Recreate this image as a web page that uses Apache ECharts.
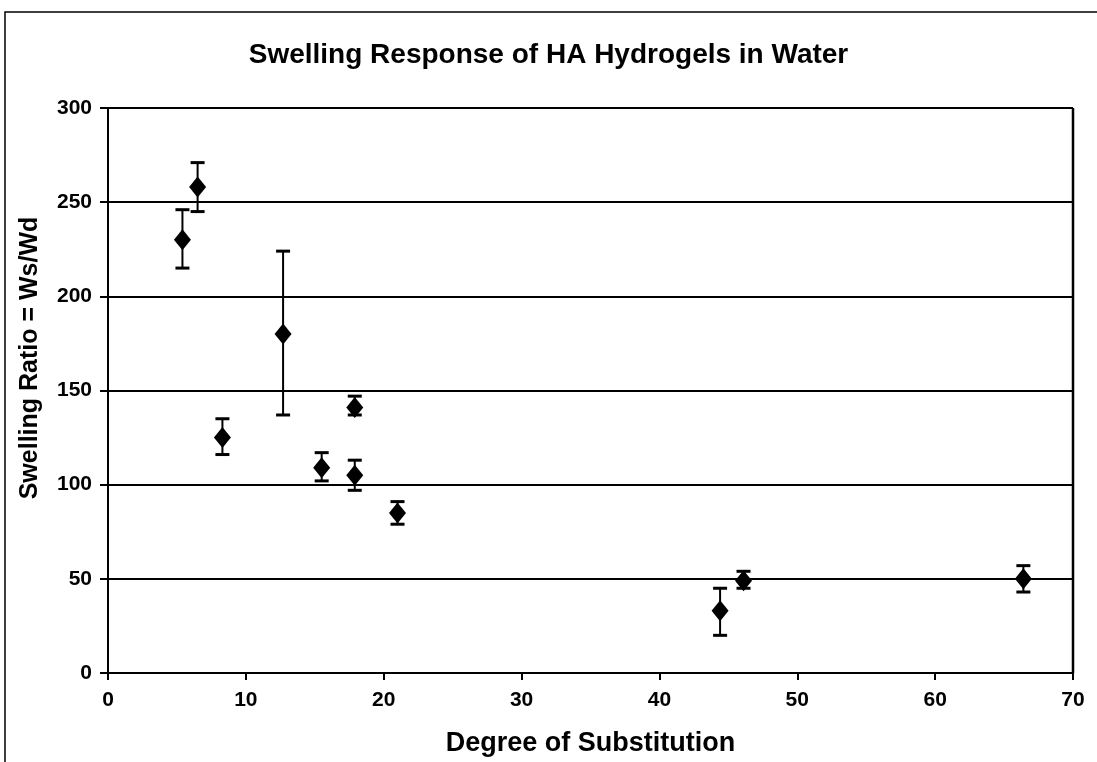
<!DOCTYPE html>
<html>
<head>
<meta charset="utf-8">
<script src="https://cdn.jsdelivr.net/npm/echarts@6/dist/echarts.min.js"></script>
<style>
html,body{margin:0;padding:0;background:#fff;}
#c{width:1097px;height:762px;}
</style>
</head>
<body>
<div id="c"></div>
<script>
var degree = [5.4, 6.5, 8.3, 12.7, 15.5, 17.9, 17.9, 21.0, 44.4, 46.1, 66.4];
var swelling = [230, 258, 125, 180, 109, 141, 105, 85, 33, 49, 50];
var errLow  = [215, 245, 116, 137, 102, 137, 97, 79, 20, 45, 43];
var errHigh = [246, 271, 135, 224, 117, 147, 113, 91, 45, 54, 57];
var yTicks = [0, 50, 100, 150, 200, 250, 300];
var xTicks = [0, 10, 20, 30, 40, 50, 60, 70];

var points = degree.map(function (d, i) { return [d, swelling[i]]; });
var bars = degree.map(function (d, i) { return [d, errLow[i], errHigh[i]]; });

var chart = echarts.init(document.getElementById('c'), null, {renderer: 'canvas'});
var font = '"Liberation Sans", Arial, sans-serif';
chart.setOption({
  backgroundColor: '#fff',
  animation: false,
  title: {
    text: 'Swelling Response of HA Hydrogels in Water',
    left: 'center',
    top: 36,
    textStyle: {fontFamily: font, fontSize: 28, fontWeight: 'bold', color: '#000'}
  },
  graphic: [{
    type: 'rect',
    shape: {x: 5, y: 12, width: 1100, height: 760},
    style: {fill: 'none', stroke: '#000', lineWidth: 1.5},
    silent: true
  }, {
    type: 'text',
    x: 30, y: 358,
    rotation: Math.PI / 2,
    style: {
      text: 'Swelling Ratio = Ws/Wd',
      font: 'bold 25px ' + font,
      fill: '#000',
      align: 'center',
      verticalAlign: 'middle'
    },
    silent: true
  }],
  grid: {left: 108, right: 24, top: 108, bottom: 89, show: true, borderColor: '#000', borderWidth: 0},
  xAxis: {
    type: 'value',
    min: 0, max: 70, interval: 10,
    name: 'Degree of Substitution',
    nameLocation: 'middle',
    nameGap: 57,
    nameTextStyle: {fontFamily: font, fontSize: 27, fontWeight: 'bold', color: '#000'},
    axisLine: {show: true, onZero: false, lineStyle: {color: '#000', width: 2}},
    axisTick: {show: true, length: 7, lineStyle: {color: '#000', width: 2}},
    axisLabel: {fontFamily: font, fontSize: 21, fontWeight: 'bold', color: '#000', margin: 17,
      formatter: function (v) { return xTicks.indexOf(v) >= 0 ? String(v) : ''; }},
    splitLine: {show: false}
  },
  yAxis: {
    type: 'value',
    min: 0, max: 300, interval: 50,
    axisLine: {show: true, onZero: false, lineStyle: {color: '#000', width: 2}},
    axisTick: {show: true, length: 8, lineStyle: {color: '#000', width: 2}},
    axisLabel: {fontFamily: font, fontSize: 21, fontWeight: 'bold', color: '#000', margin: 16,
      formatter: function (v) { return yTicks.indexOf(v) >= 0 ? String(v) : ''; }},
    splitLine: {show: true, lineStyle: {color: '#000', width: 2}}
  },
  series: [
    {
      type: 'custom',
      data: bars,
      encode: {x: 0, y: [1, 2]},
      z: 2,
      renderItem: function (params, api) {
        var x = api.value(0);
        var lo = api.coord([x, api.value(1)]);
        var hi = api.coord([x, api.value(2)]);
        var cap = 7;
        var st = {stroke: '#000', lineWidth: 2, fill: 'none'};
        return {
          type: 'group',
          children: [
            {type: 'line', shape: {x1: lo[0], y1: lo[1], x2: hi[0], y2: hi[1]}, style: st},
            {type: 'line', shape: {x1: lo[0] - cap, y1: lo[1], x2: lo[0] + cap, y2: lo[1]}, style: {stroke: '#000', lineWidth: 3}},
            {type: 'line', shape: {x1: hi[0] - cap, y1: hi[1], x2: hi[0] + cap, y2: hi[1]}, style: {stroke: '#000', lineWidth: 3}}
          ]
        };
      }
    },
    {
      type: 'scatter',
      data: points,
      symbol: 'diamond',
      symbolSize: [17, 21],
      z: 3,
      itemStyle: {color: '#000', opacity: 1}
    },
    {
      type: 'line',
      data: [[70, 0], [70, 300]],
      symbol: 'none',
      lineStyle: {color: '#000', width: 2.5},
      silent: true,
      z: 1
    }
  ]
});
</script>
</body>
</html>
